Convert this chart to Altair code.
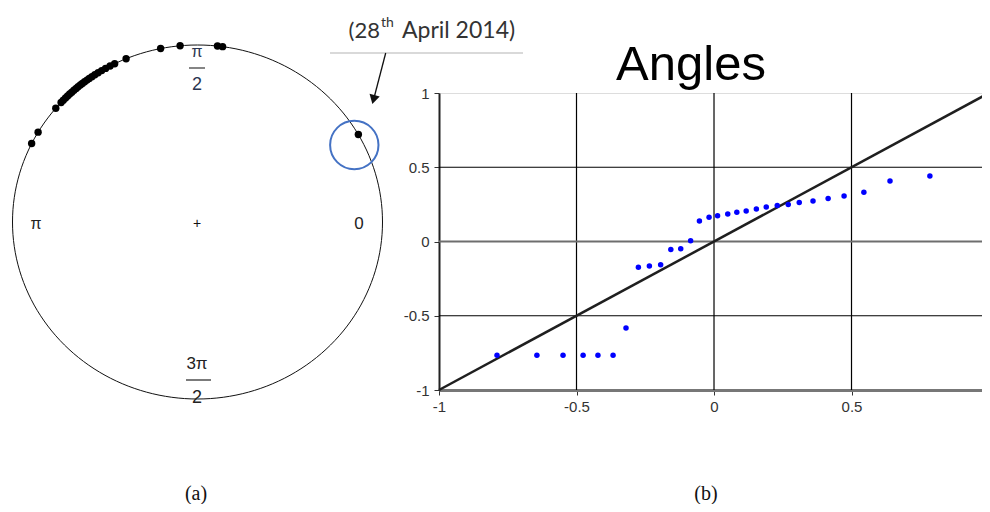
import altair as alt
import pandas as pd

# ---------------- data ----------------
# (b) Angles panel: points
angle_x = [-0.789, -0.644, -0.549, -0.476, -0.422, -0.367, -0.320, -0.275, -0.235, -0.194,
           -0.157, -0.121, -0.085, -0.053, -0.018, 0.013, 0.050, 0.083, 0.117, 0.154,
           0.190, 0.230, 0.270, 0.310, 0.360, 0.415, 0.473, 0.545, 0.640, 0.785]
angle_y = [-0.766, -0.766, -0.766, -0.766, -0.766, -0.766, -0.583, -0.174, -0.165, -0.156,
           -0.054, -0.049, 0.005, 0.138, 0.163, 0.174, 0.185, 0.197, 0.205, 0.219,
           0.232, 0.242, 0.249, 0.263, 0.273, 0.290, 0.307, 0.332, 0.407, 0.441]
diag_x = [-1, 1]
diag_y = [-1, 1]
tick_values = [-1, -0.5, 0, 0.5, 1]
grid_values = [-0.5, 0, 0.5]
zero_line = [0]

# (a) circular plot: angle of each day, in degrees
circle_deg = [153.7, 149.5, 140.0, 137.5, 136.5, 135.5, 134.6, 133.7, 132.8, 131.9,
              131.0, 130.2, 129.3, 128.5, 127.6, 126.7, 125.8, 124.8, 123.7, 122.5,
              121.2, 119.8, 118.2, 116.6, 112.7, 101.5, 95.4, 83.8, 82.2, 29.6]

FONT = "Liberation Sans"

# ---------------- (b) panel ----------------
# the page is 974px wide inside its margins, so the panel's right edge sits at x = 0.9745
xs = alt.Scale(domain=[-1, 0.9745], nice=False)
ys = alt.Scale(domain=[-1, 1], nice=False)

xaxis = alt.Axis(values=tick_values, grid=False, labelExpr="datum.value + ''",
                 domainColor="#777777", domainWidth=3, tickColor="#333333", tickSize=5,
                 labelFont=FONT, labelFontSize=15, labelColor="#333333", labelPadding=4,
                 title=None, labelFlush=False)
yaxis = alt.Axis(values=tick_values, grid=False, labelExpr="datum.value + ''",
                 domainColor="#222222", domainWidth=2, tickColor="#333333", tickSize=5,
                 labelFont=FONT, labelFontSize=15, labelColor="#333333", labelPadding=5,
                 title=None)

pts_df = pd.DataFrame({"x": angle_x, "y": angle_y})
diag_df = pd.DataFrame({"x": diag_x, "y": diag_y})

vgrid = alt.Chart(pd.DataFrame({"v": grid_values})).mark_rule(
    color="#000000", strokeWidth=1.2).encode(x=alt.X("v:Q", scale=xs, axis=xaxis))
hgrid = alt.Chart(pd.DataFrame({"v": [-0.5, 0.5]})).mark_rule(
    color="#000000", strokeWidth=1.2).encode(y=alt.Y("v:Q", scale=ys, axis=yaxis))
hzero = alt.Chart(pd.DataFrame({"v": zero_line})).mark_rule(
    color="#6e6e6e", strokeWidth=2).encode(y=alt.Y("v:Q", scale=ys))
diag = alt.Chart(diag_df).mark_line(color="#1f1f1f", strokeWidth=2.5).encode(
    x=alt.X("x:Q", scale=xs), y=alt.Y("y:Q", scale=ys))
points = alt.Chart(pts_df).mark_point(filled=True, color="#0000ff", size=30, opacity=1).encode(
    x=alt.X("x:Q", scale=xs), y=alt.Y("y:Q", scale=ys))

right = alt.layer(vgrid, hgrid, hzero, diag, points)

# ---------------- (a) panel ----------------
cx_scale = alt.Scale(domain=[-1, 1], range=[-426.5, -56.5], nice=False)
cy_scale = alt.Scale(domain=[-1, 1], range=[306, -48], nice=False)

outline = alt.Chart(alt.sequence(0, 362, 2, as_="deg")).transform_calculate(
    cx="cos(datum.deg * PI / 180)", cy="sin(datum.deg * PI / 180)"
).mark_line(color="#111111", strokeWidth=1).encode(
    x=alt.X("cx:Q", scale=cx_scale, axis=None),
    y=alt.Y("cy:Q", scale=cy_scale, axis=None),
    order="deg:Q")

cpts = alt.Chart(pd.DataFrame({"deg": circle_deg})).transform_calculate(
    cx="cos(datum.deg * PI / 180)", cy="sin(datum.deg * PI / 180)"
).mark_point(filled=True, color="#000000", size=55, opacity=1).encode(
    x=alt.X("cx:Q", scale=cx_scale, axis=None),
    y=alt.Y("cy:Q", scale=cy_scale, axis=None))

left = alt.layer(outline, cpts)

# ---------------- annotations ----------------
one = pd.DataFrame({"k": [0]})


def label(text, x, y, size, font=FONT, color="#222222", align="center",
          baseline="middle", weight="normal"):
    return alt.Chart(one).mark_text(text=text, font=font, fontSize=size, color=color,
                                    align=align, baseline=baseline,
                                    fontWeight=weight).encode(
        x=alt.value(x), y=alt.value(y))


def seg(x1, x2, y1, y2, color, width):
    return alt.Chart(one).mark_rule(color=color, strokeWidth=width).encode(
        x=alt.value(x1), x2=alt.value(x2), y=alt.value(y1), y2=alt.value(y2))


ann = [
    label("π", -403, 131, 16),
    label("+", -242, 131, 14, color="#111111"),
    label("0", -80, 131, 17),
    label("π", -242, -41, 16, color="#2a3550"),
    seg(-250, -234, -25, -25, "#333333", 1.2),
    label("2", -242, -8, 18, color="#2a3550"),
    label("3π", -242, 271, 17),
    seg(-253, -228, 287, 287, "#222222", 1.2),
    label("2", -242, 305, 18),
    label("(a)", -243, 401, 20, font="Liberation Serif", color="#111111"),
    label("(b)", 267, 401, 20, font="Liberation Serif", color="#111111"),
    label("Angles", 252, -13, 49, color="#000000", baseline="alphabetic"),
    # callout
    label("(28", -59, -62, 22, font="Lato", color="#333333", align="right"),
    label("th", -58, -70, 14, font="Lato", color="#333333", align="left"),
    label("April 2014)", -37, -62, 23, font="Lato", color="#333333", align="left"),
    seg(-109, 84, -40, -40, "#cccccc", 1.5),
    seg(-53.3, -65, -40, 5, "#111111", 1.3),
    alt.Chart(one).mark_point(shape="triangle-down", filled=True, color="#111111",
                              size=110, angle=14.5, opacity=1).encode(
        x=alt.value(-65.5), y=alt.value(6.5)),
    alt.Chart(one).mark_point(shape="circle", filled=False, color="#4472c4",
                              size=2340, strokeWidth=2, opacity=1).encode(
        x=alt.value(-84.7), y=alt.value(52)),
]

chart = alt.layer(right, left, *ann).resolve_scale(
    x="independent", y="independent"
).properties(
    width=543, height=297,
    autosize=alt.AutoSizeParams(type="none"),
    padding={"left": 431, "top": 85, "right": 0, "bottom": 114},
).configure_view(stroke="#1a1a1a", strokeWidth=1).configure(background="white")

chart.save("out.html", embed_options={"renderer": "svg", "actions": False})
